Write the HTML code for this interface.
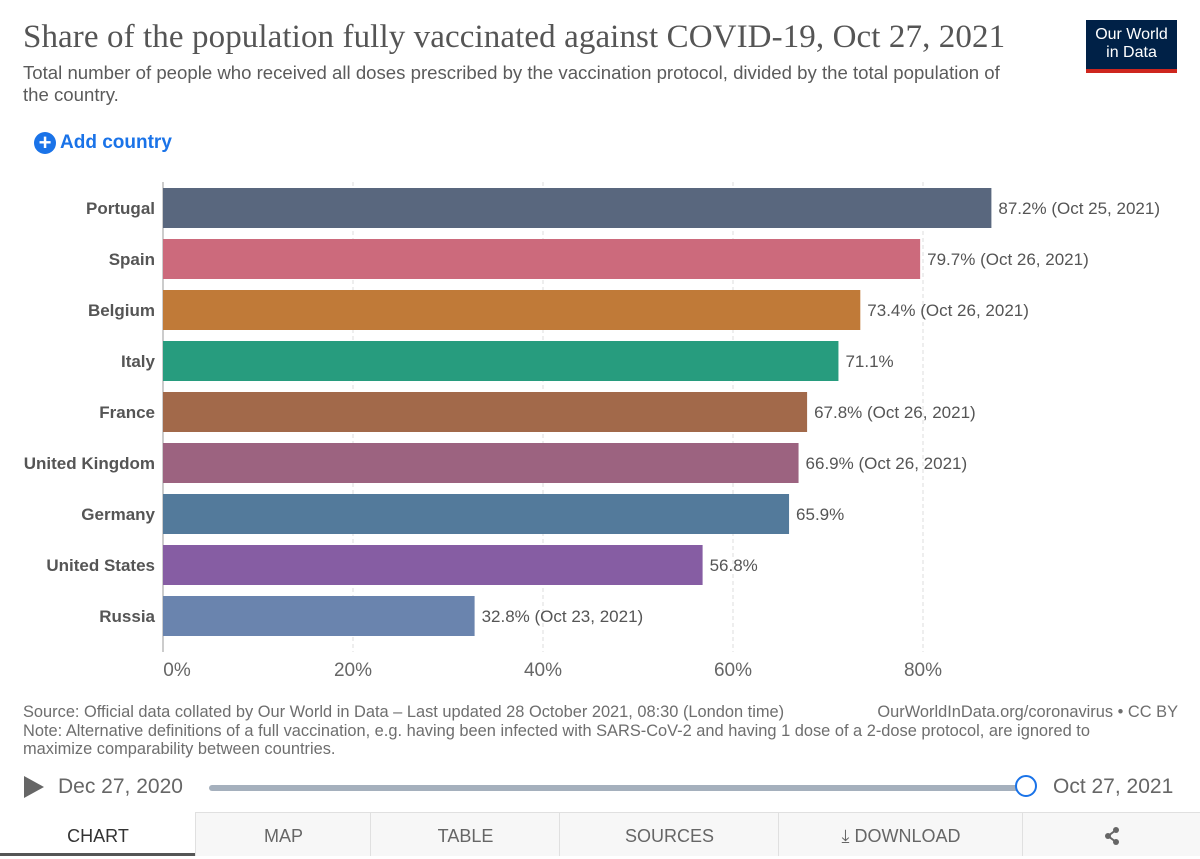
<!DOCTYPE html>
<html><head><meta charset="utf-8">
<style>
body{margin:0;width:1200px;height:856px;background:#fff;font-family:"Liberation Sans",sans-serif;position:relative;overflow:hidden}
.abs{position:absolute;white-space:nowrap}
#title{left:23px;top:19px;font-family:"Liberation Serif",serif;font-size:33px;color:#555;letter-spacing:0.1px}
#sub{left:23px;top:62px;font-size:18.6px;color:#5b5b5b;line-height:22px}
#logo{left:1086px;top:20px;width:91px;height:53px;background:#002147;color:#fff;font-size:16px;text-align:center;line-height:18px;padding-top:6px;box-sizing:border-box;border-bottom:4px solid #ce261e}
#add{left:34px;top:132px;font-size:19px;color:#1a73e8;font-weight:bold}
.foot{font-size:16.4px;color:#6e6e6e}
.tab{position:absolute;top:812px;height:44px;background:#f7f7f7;border-left:1px solid #e0e0e0;border-top:1px solid #e0e0e0;box-sizing:border-box;text-align:center;line-height:46px;font-size:18px;color:#666}
</style></head><body>
<div class="abs" id="title">Share of the population fully vaccinated against COVID-19, Oct 27, 2021</div>
<div class="abs" id="sub">Total number of people who received all doses prescribed by the vaccination protocol, divided by the total population of<br>the country.</div>
<div class="abs" id="logo">Our World<br>in Data</div>
<div class="abs" id="add"><span style="display:inline-block;width:22px;height:22px;border-radius:50%;background:#1a73e8;color:#fff;text-align:center;line-height:22px;font-size:22px;vertical-align:-2px;margin-right:4px">+</span>Add country</div>
<svg id="chart" class="abs" style="left:0;top:170px" width="1200" height="520"></svg>
<div class="abs foot" style="left:23px;top:703px">Source: Official data collated by Our World in Data – Last updated 28 October 2021, 08:30 (London time)</div>
<div class="abs foot" style="right:22px;top:703px">OurWorldInData.org/coronavirus • CC BY</div>
<div class="abs foot" style="left:23px;top:722px;line-height:18px">Note: Alternative definitions of a full vaccination, e.g. having been infected with SARS-CoV-2 and having 1 dose of a 2-dose protocol, are ignored to<br>maximize comparability between countries.</div>
<div class="abs" style="left:24px;top:776px;width:0;height:0;border-top:11px solid transparent;border-bottom:11px solid transparent;border-left:20px solid #666"></div>
<div class="abs" style="left:58px;top:775px;font-size:21px;color:#666">Dec 27, 2020</div>
<div class="abs" style="left:209px;top:785px;width:818px;height:6px;background:#a5b0bd;border-radius:3px"></div>
<div class="abs" style="left:1015px;top:775px;width:22px;height:22px;border-radius:50%;background:#fff;border:2px solid #1a73e8;box-sizing:border-box"></div>
<div class="abs" style="left:1053px;top:775px;font-size:21px;color:#666">Oct 27, 2021</div>
<div class="tab" style="left:0;width:196px;background:#fff;border-left:none;border-top:1px solid #fff;color:#333;border-bottom:3px solid #555">CHART</div>
<div class="tab" style="left:195px;width:176px">MAP</div>
<div class="tab" style="left:370px;width:190px">TABLE</div>
<div class="tab" style="left:559px;width:220px">SOURCES</div>
<div class="tab" style="left:778px;width:245px">⤓ DOWNLOAD</div>
<div class="tab" style="left:1022px;width:178px"><svg width="16" height="18" viewBox="0 0 16 18" style="vertical-align:-3px"><circle cx="12" cy="3" r="3" fill="#666"/><circle cx="4" cy="9" r="3" fill="#666"/><circle cx="12" cy="15" r="3" fill="#666"/><path d="M12 3L4 9L12 15" stroke="#666" stroke-width="2" fill="none"/></svg></div>
<script>
const countries=["Portugal","Spain","Belgium","Italy","France","United Kingdom","Germany","United States","Russia"];
const values=[87.2,79.7,73.4,71.1,67.8,66.9,65.9,56.8,32.8];
const dates=["Oct 25, 2021","Oct 26, 2021","Oct 26, 2021","","Oct 26, 2021","Oct 26, 2021","","","Oct 23, 2021"];
const colors=["#59677e","#cc6a7c","#c07a38","#279c7e","#a2694a","#9c6380","#537a9b","#865da3","#6a84ae"];
const ticks=[0,20,40,60,80];
const NS="http://www.w3.org/2000/svg";
const svg=document.getElementById('chart');
const x=v=>163+v*9.5;
const y=i=>18+i*51;
function mk(t,a){const e=document.createElementNS(NS,t);for(const k in a)e.setAttribute(k,a[k]);svg.appendChild(e);return e;}
ticks.forEach(t=>{
 if(t>0){const l=mk('line',{x1:x(t),x2:x(t),y1:12,y2:482,stroke:'#ddd','stroke-dasharray':'4,3'});
 
 }
 const tx=mk('text',{x:x(t)+(t==0?14:0),y:506,'text-anchor':'middle','font-size':19,fill:'#666'});
 tx.textContent=t+'%';
 
 
});
const z=mk('line',{x1:163,x2:163,y1:12,y2:482,stroke:'#999'});


countries.forEach((c,i)=>{
 const r=mk('rect',{x:163,y:y(i),width:x(values[i])-163,height:40,fill:colors[i]});
 
 
 const lb=mk('text',{x:155,y:y(i)+26,'text-anchor':'end','font-size':17,'font-weight':'bold',fill:'#555'});
 lb.textContent=c;
 
 
 const v=mk('text',{x:x(values[i])+7,y:y(i)+26,'font-size':17,fill:'#555'});
 v.textContent=values[i].toFixed(1)+'%'+(dates[i]?' ('+dates[i]+')':'');
 
 
});
</script>
</body></html>
